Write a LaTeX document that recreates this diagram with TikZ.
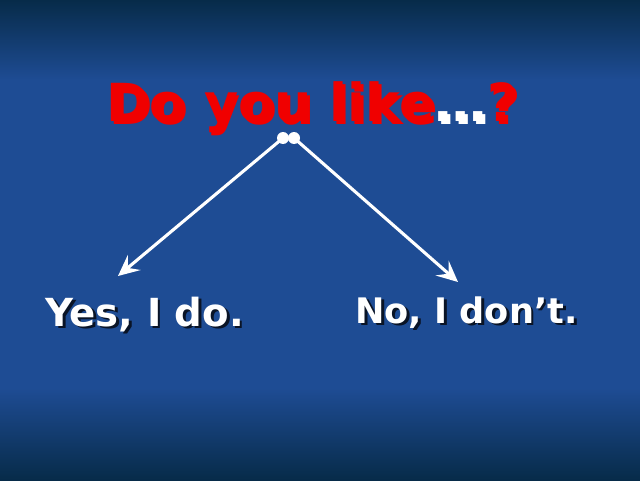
\documentclass[tikz,border=0pt]{standalone}
\usepackage{fontspec}
\setmainfont{DejaVu Sans}
\usetikzlibrary{arrows.meta}
\definecolor{bgdark}{HTML}{072B49}
\definecolor{bgblue}{HTML}{1E4C94}
\definecolor{qred}{HTML}{F00000}
\definecolor{shadow}{HTML}{0A1426}
\newcommand{\shtext}[1]{\makebox[0pt][l]{\hspace{2pt}\raisebox{-2pt}{\color{shadow}#1}}#1}
\tikzset{
	answer/.style={anchor=base west,inner sep=0pt,text=white},
	branch/.style={draw=white,line width=2.2pt,-{Stealth[length=15pt,width=14pt,inset=6pt]}}
}
\begin{document}
\begin{tikzpicture}[line join = round, line cap = round]
	%background
	\useasboundingbox (0,0) rectangle (16,12);
	\shade[top color=bgdark,bottom color=bgblue] (0,10) rectangle (16,12);
	\fill[bgblue] (0,2.3) rectangle (16,10);
	\shade[top color=bgblue,bottom color=bgdark] (0,0) rectangle (16,2.3);
	%question
	\node[anchor=base,inner sep=0pt,font=\bfseries\fontsize{37.3}{40}\selectfont] (ask) at (7.8,8.95)
		{\shtext{\color{qred}Do you like}\shtext{\color{white}\ldots}\shtext{\color{qred}?}};
	\fill[white] (7.075,8.55) circle (0.15) coordinate (dotL);
	\fill[white] (7.35,8.55) circle (0.15) coordinate (dotR);
	\coordinate (tipL) at (2.95,5.1);
	\coordinate (tipR) at (11.45,4.95);
	\draw[branch] (dotL) -- (tipL);
	\draw[branch] (dotR) -- (tipR);
	%answers
	\node[answer,font=\bfseries\fontsize{27.5}{30}\selectfont] (yes) at (1.125,3.85) {\shtext{Yes, I do.}};
	\node[answer,font=\bfseries\fontsize{25}{30}\selectfont] (no) at (8.875,3.925) {\shtext{No, I don’t.}};
\end{tikzpicture}
\end{document}
